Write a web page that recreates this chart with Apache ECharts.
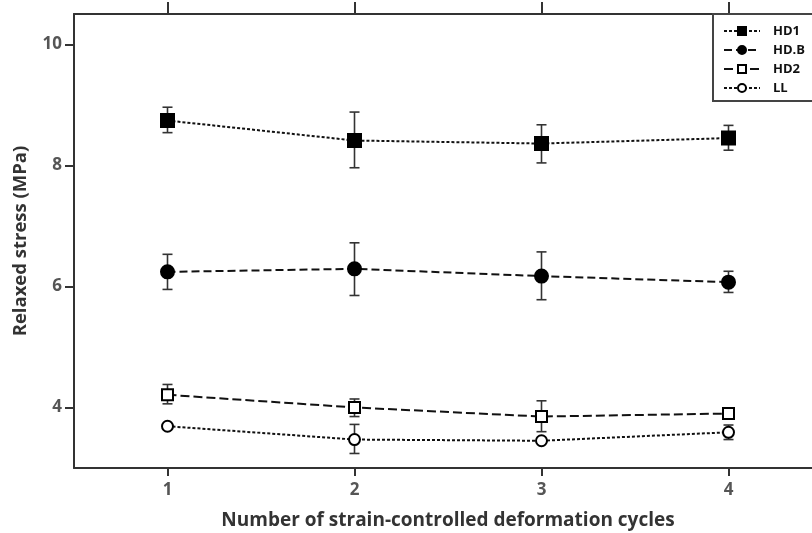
<!DOCTYPE html>
<html><head><meta charset="utf-8">
<script src="https://cdn.jsdelivr.net/npm/echarts@6/dist/echarts.min.js"></script>
<style>html,body{margin:0;padding:0;background:#fff}#c{width:812px;height:533px}</style>
</head><body><div id="c"></div>
<script>
var cycles = [1, 2, 3, 4];
var xTicks = [1, 2, 3, 4];
var yTicks = [4, 6, 8, 10];
var seriesNames = ['HD1', 'HD.B', 'HD2', 'LL'];
var hd1 = [8.74, 8.41, 8.36, 8.45];
var hd1Hi = [8.96, 8.88, 8.67, 8.66];
var hd1Lo = [8.54, 7.96, 8.04, 8.25];
var hdb = [6.24, 6.29, 6.17, 6.07];
var hdbHi = [6.53, 6.72, 6.57, 6.25];
var hdbLo = [5.95, 5.85, 5.78, 5.90];
var hd2 = [4.21, 4.00, 3.85, 3.90];
var hd2Hi = [4.38, 4.14, 4.11, 3.93];
var hd2Lo = [4.06, 3.85, 3.60, 3.87];
var ll = [3.69, 3.47, 3.45, 3.59];
var llHi = [3.72, 3.72, 3.48, 3.71];
var llLo = [3.66, 3.24, 3.42, 3.47];

var FONT = '"Open Sans", "Noto Sans", sans-serif';
var chart = echarts.init(document.getElementById('c'));

function pairs(v) { return cycles.map(function (c, i) { return [c, v[i]]; }); }
function errData(lo, hi) { return cycles.map(function (c, i) { return [c, lo[i], hi[i]]; }); }
function errSeries(lo, hi) {
  return {
    type: 'custom', z: 1, silent: true,
    data: errData(lo, hi),
    renderItem: function (params, api) {
      var x = api.value(0);
      var a = api.coord([x, api.value(1)]);
      var b = api.coord([x, api.value(2)]);
      var w = 5;
      var st = { stroke: '#333', lineWidth: 1.6 };
      return { type: 'group', children: [
        { type: 'line', shape: { x1: a[0], y1: a[1], x2: b[0], y2: b[1] }, style: st },
        { type: 'line', shape: { x1: a[0] - w, y1: a[1], x2: a[0] + w, y2: a[1] }, style: st },
        { type: 'line', shape: { x1: b[0] - w, y1: b[1], x2: b[0] + w, y2: b[1] }, style: st }
      ]};
    }
  };
}
function lineSeries(name, v, symbol, filled, dash, size) {
  return {
    name: name, type: 'line', z: 3, data: pairs(v),
    symbol: symbol, symbolSize: size, showSymbol: true,
    lineStyle: { color: '#111', width: 2, type: dash },
    itemStyle: { color: filled ? '#000' : '#fff', borderColor: '#000', borderWidth: 2 },
    emphasis: { disabled: true }
  };
}

var axisLine = { show: true, lineStyle: { color: '#333', width: 2 } };
var option = {
  animation: false,
  backgroundColor: '#fff',
  grid: { left: 74, top: 14, width: 748, height: 454, outerBoundsMode: 'none', containLabel: false },
  legend: {
    orient: 'vertical', left: 713, top: 14,
    padding: [9, 8, 5, 10],
    itemWidth: 36, itemHeight: 10, itemGap: 3,
    borderColor: '#444', borderWidth: 2,
    backgroundColor: '#fff',
    data: seriesNames,
    textStyle: { fontFamily: FONT, fontWeight: 'bold', fontSize: 13, lineHeight: 16, color: '#111', padding: [0, 0, 0, 8] }
  },
  xAxis: [{
    type: 'value', min: 0.5, max: 4.5,
    name: 'Number of strain-controlled deformation cycles',
    nameLocation: 'middle', nameGap: 43,
    nameTextStyle: { fontFamily: FONT, fontWeight: 'bold', fontSize: 19, color: '#333' },
    axisLine: axisLine,
    axisTick: { show: true, inside: false, length: 8, lineStyle: { color: '#333', width: 2 }, customValues: xTicks },
    axisLabel: { show: true, fontFamily: FONT, fontWeight: 'bold', fontSize: 17, color: '#555', margin: 14, customValues: xTicks },
    splitLine: { show: false }
  }, {
    type: 'value', min: 0.5, max: 4.5, position: 'top',
    axisLine: axisLine,
    axisTick: { show: true, length: 12, lineStyle: { color: '#333', width: 2 }, customValues: xTicks },
    axisLabel: { show: false },
    splitLine: { show: false }
  }],
  yAxis: [{
    type: 'value', min: 3, max: 10.5,
    name: 'Relaxed stress (MPa)',
    nameLocation: 'middle', nameGap: 44, nameRotate: 90,
    nameTextStyle: { fontFamily: FONT, fontWeight: 'bold', fontSize: 18.5, color: '#333' },
    axisLine: axisLine,
    axisTick: { show: true, length: 9, lineStyle: { color: '#333', width: 2 }, customValues: yTicks },
    axisLabel: { show: true, fontFamily: FONT, fontWeight: 'bold', fontSize: 17, color: '#555', margin: 12, customValues: yTicks },
    splitLine: { show: false }
  }, {
    type: 'value', min: 3, max: 10.5, position: 'right',
    axisLine: axisLine, axisTick: { show: false }, axisLabel: { show: false }, splitLine: { show: false }
  }],
  series: [
    errSeries(hd1Lo, hd1Hi), errSeries(hdbLo, hdbHi), errSeries(hd2Lo, hd2Hi), errSeries(llLo, llHi),
    lineSeries('HD1', hd1, 'rect', true, [3, 2], 13),
    lineSeries('HD.B', hdb, 'circle', true, [8, 4], 13),
    lineSeries('HD2', hd2, 'rect', false, [9, 4], 11),
    lineSeries('LL', ll, 'circle', false, [3, 2], 11)
  ]
};
chart.setOption(option);
</script></body></html>
